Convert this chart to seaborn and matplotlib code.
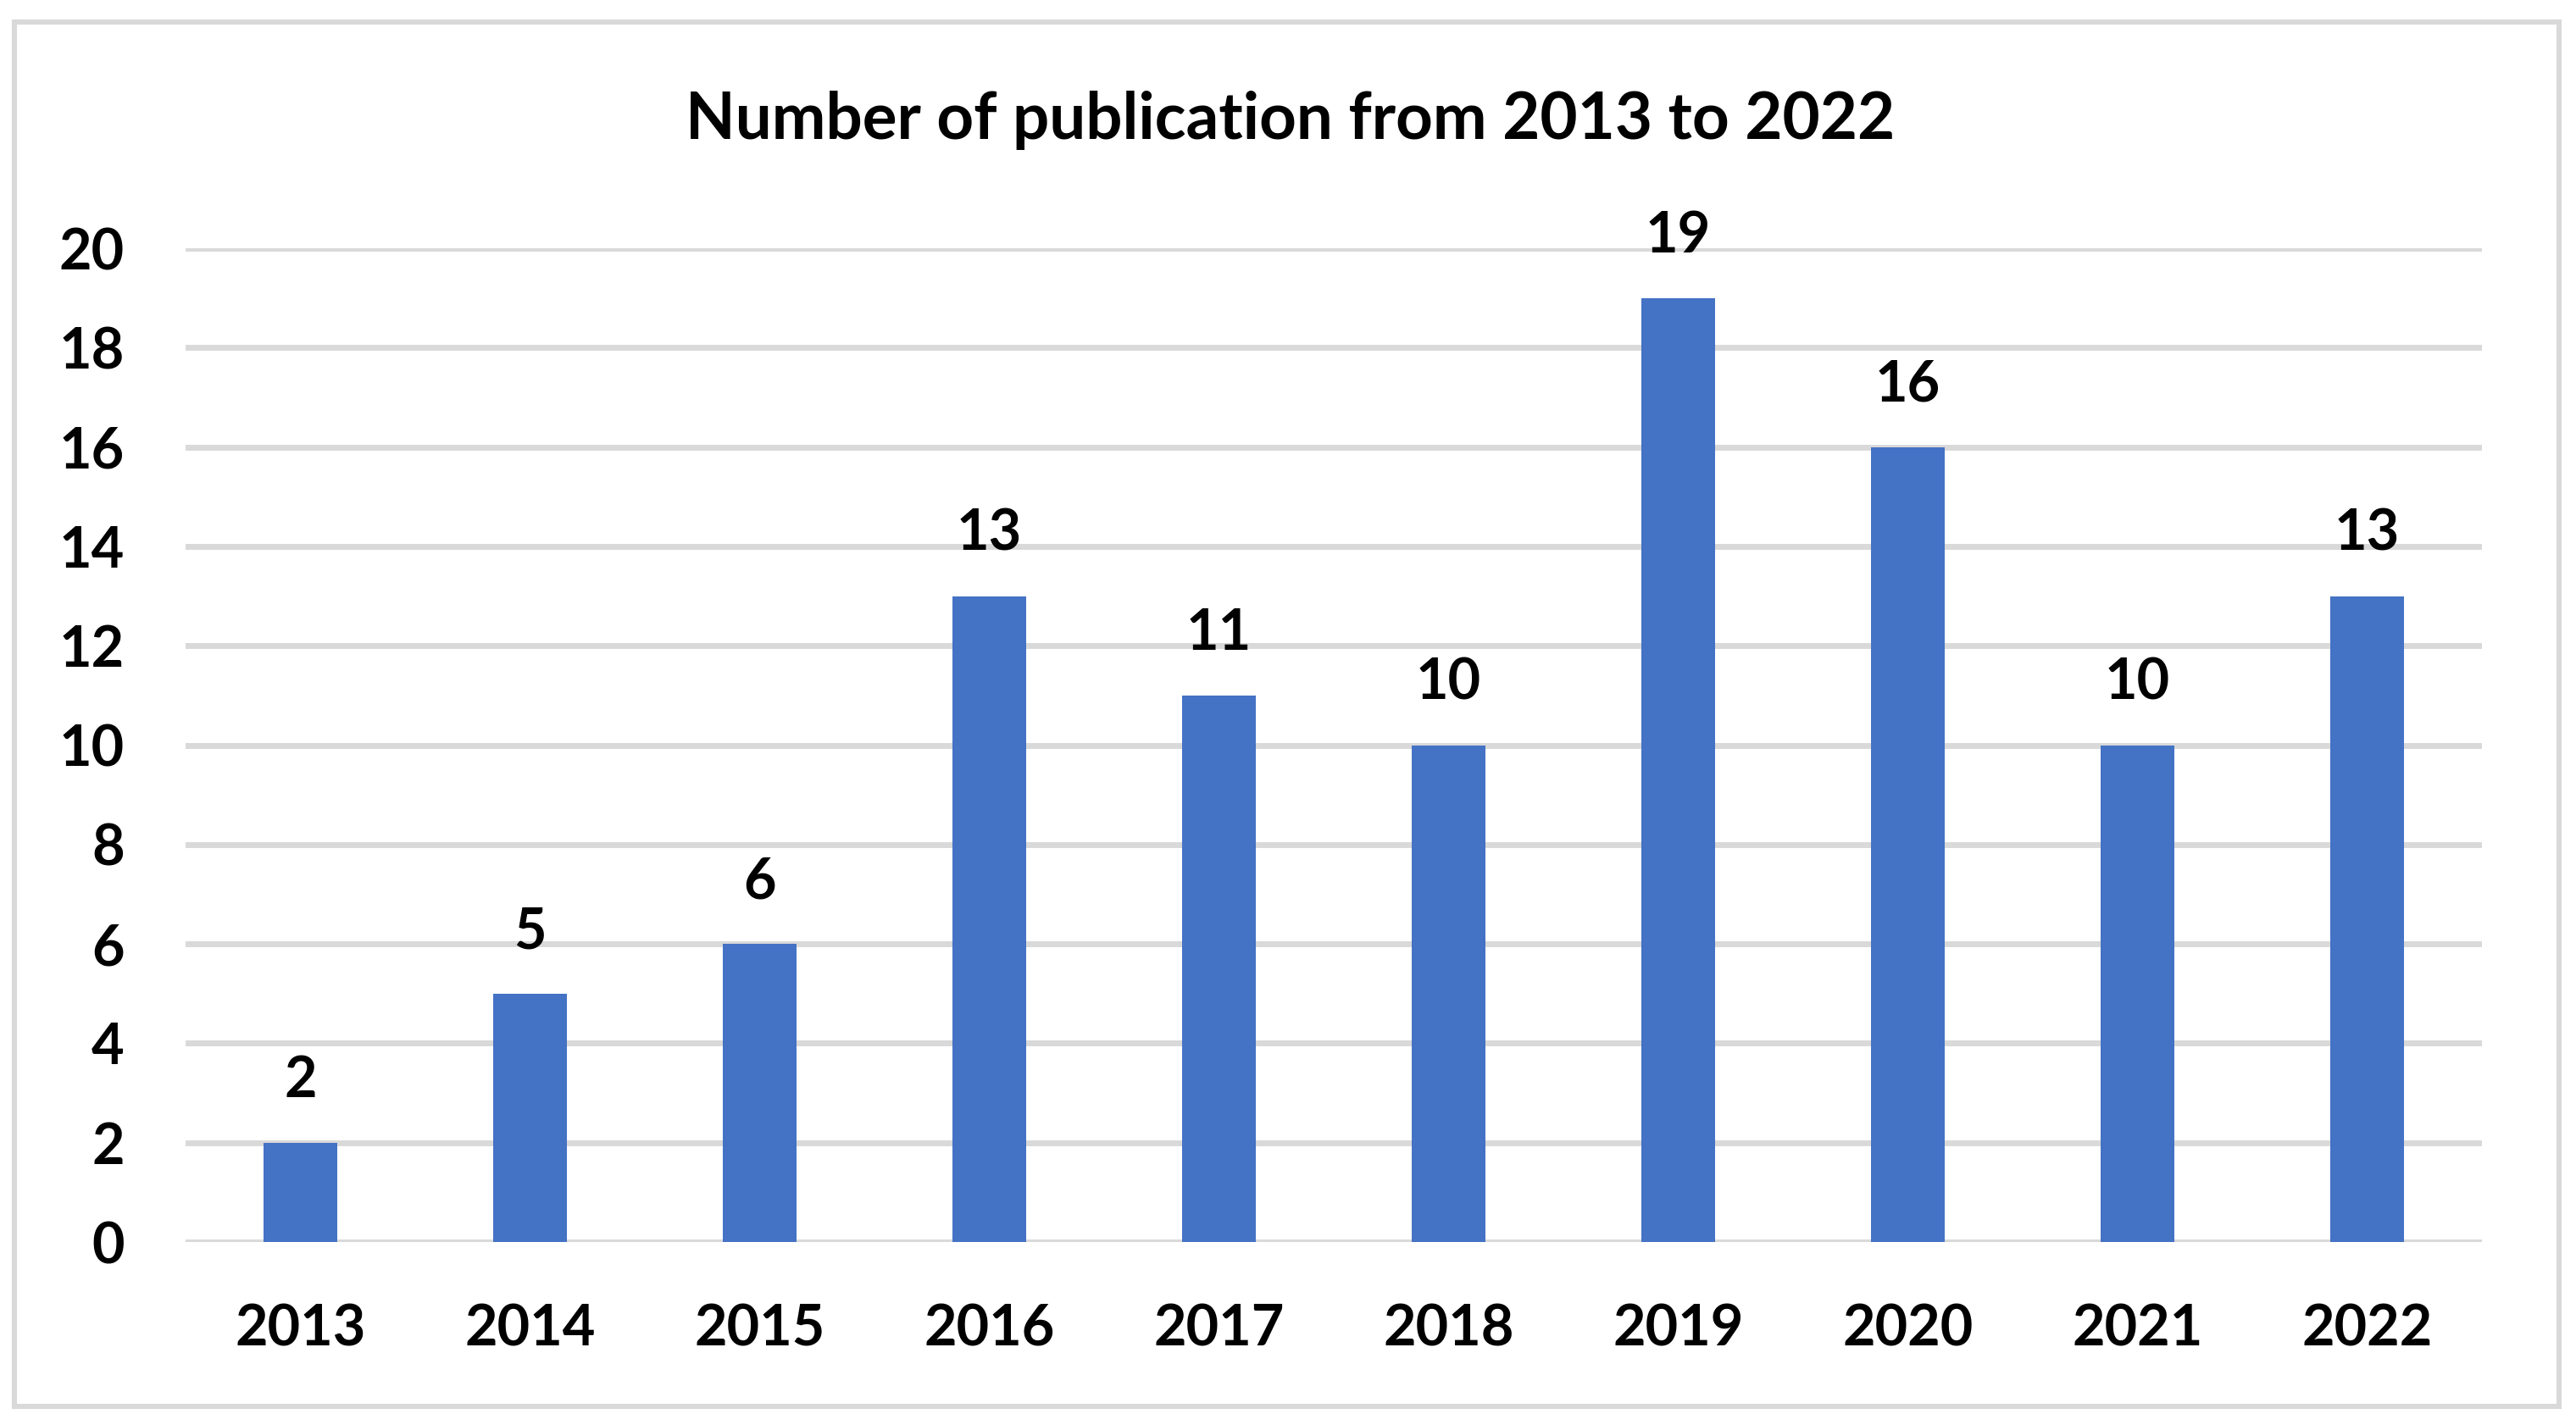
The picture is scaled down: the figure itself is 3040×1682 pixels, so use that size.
#! /usr/bin/env python3
'''
Bar chart: number of publications per year, 2013-2022
'''
# imports
import matplotlib
matplotlib.use("Agg")
import matplotlib.pyplot as plt
from matplotlib.patches import Rectangle
import pandas as pd
import seaborn as sns

# data
years = ["2013", "2014", "2015", "2016", "2017", "2018", "2019", "2020", "2021", "2022"]
counts = [2, 5, 6, 13, 11, 10, 19, 16, 10, 13]
y_ticks = [0, 2, 4, 6, 8, 10, 12, 14, 16, 18, 20]
title = "Number of publication from 2013 to 2022"

# settings
sns.set_style("whitegrid", {"grid.color": "#D9D9D9", "axes.edgecolor": "white",
                            "text.color": "black", "xtick.color": "black",
                            "ytick.color": "black"})
plt.rcParams['font.family'] = ['Lato', 'DejaVu Sans']
plt.rcParams['font.weight'] = 'bold'

df = pd.DataFrame({"year": years, "count": counts})

# create chart
fig = plt.figure(figsize=(15.2, 8.41), dpi=200)
ax = fig.add_axes([0.072, 0.1284, 0.8915, 0.6974])
sns.barplot(data=df, x="year", y="count", color="#4472C4", saturation=1,
            width=0.32, linewidth=0, ax=ax, zorder=3)
ax.bar_label(ax.containers[0], padding=15, fontsize=24, fontweight='bold', color='black')

ax.set_xlim(-0.5, len(years) - 0.5)
ax.set_ylim(0, 20)
ax.set_yticks(y_ticks)
ax.set_xlabel("")
ax.set_ylabel("")
ax.grid(axis='y', color="#D9D9D9", linewidth=2.5, zorder=0)
ax.grid(axis='x', visible=False)
ax.set_axisbelow(True)
for s in ax.spines.values():
    s.set_visible(False)
ax.tick_params(axis='both', length=0, labelsize=24, labelcolor='black')
ax.tick_params(axis='y', pad=26)
ax.tick_params(axis='x', pad=26)
for lab in ax.get_xticklabels() + ax.get_yticklabels():
    lab.set_fontweight('bold')

fig.text(0.5007, 0.9156, title, ha='center', va='center', fontsize=27.5,
         fontweight='bold', color='black')

# outer border
fig.patches.append(Rectangle((17 / 3040, 1 - 1660 / 1682), 3003 / 3040, 1634 / 1682,
                             transform=fig.transFigure, fill=False,
                             edgecolor="#D9D9D9", linewidth=2.2))

fig.savefig("out.png", dpi=200)
plt.close()
